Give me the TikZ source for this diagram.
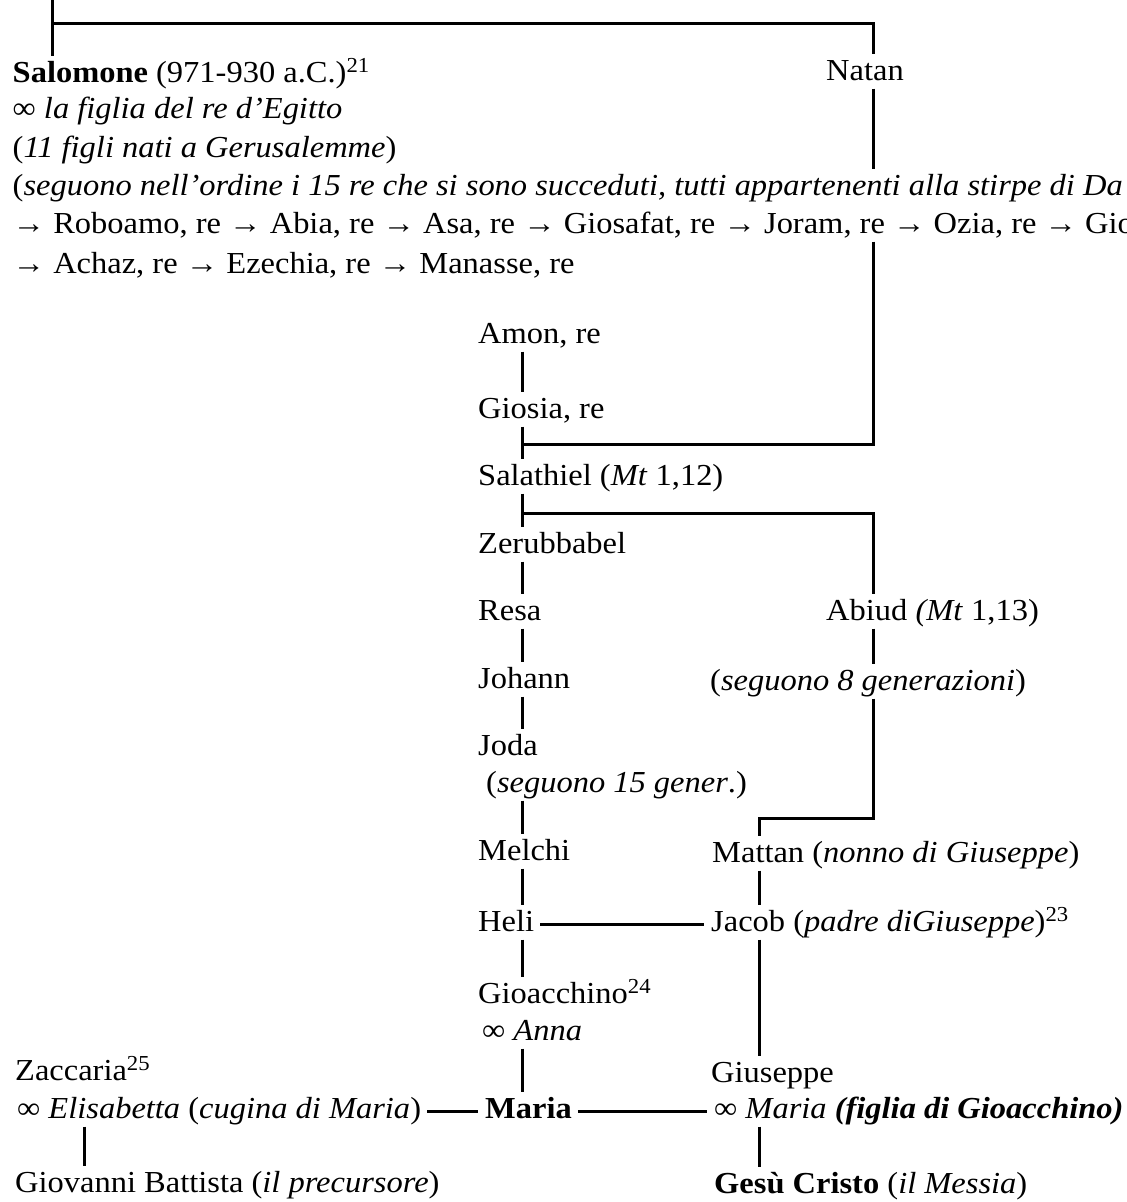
\documentclass[tikz,border=0pt]{standalone}
\usepackage{fontspec}
\setmainfont{Liberation Serif}[FakeStretch=1.065]
\begin{document}
\begin{tikzpicture}[x=1pt,y=-1pt,
    pers/.style={anchor=base west,inner xsep=0pt,inner ysep=3.5pt,
      text height=22pt,text depth=5pt,font=\fontsize{30.5}{36}\selectfont},
    link/.style={line width=3pt},
    tie/.style={link,shorten <=6pt,shorten >=7pt}]
  \useasboundingbox (0,0) rectangle (1127,1202);
  \clip (0,0) rectangle (1127,1202);
  \coordinate (spine) at (522,0);
  \coordinate (natx) at (873,0);
  \coordinate (jx) at (759,0);
  \coordinate (zx) at (84,0);
  \coordinate (davide) at (52,0);
  \coordinate (fork) at (52,23);
  \coordinate (j1) at (522,444);
  \coordinate (j2) at (522,513);
  \coordinate (bend) at (759,818);

  \node[pers] (salomone) at (12.5,82) {\textbf{Salomone} (971-930 a.C.)\textsuperscript{21}};
  \node[pers] (natan) at (826,80) {Natan};
  \node[pers] (egitto) at (12.5,118) {∞ \textit{la figlia del re d’Egitto}};
  \node[pers] (figli) at (12.5,157) {(\textit{11 figli nati a Gerusalemme})};
  \node[pers] (stirpe) at (12.5,195) {(\textit{seguono nell’ordine i 15 re che si sono succeduti, tutti appartenenti alla stirpe di Da}};
  \node[pers] (regni) at (12.5,233) {→ Roboamo, re → Abia, re → Asa, re → Giosafat, re → Joram, re → Ozia, re → Gio};
  \node[pers] (regni2) at (12.5,273) {→ Achaz, re → Ezechia, re → Manasse, re};

  \node[pers] (amon) at (478,343) {Amon, re};
  \node[pers] (giosia) at (478,418) {Giosia, re};
  \node[pers] (salathiel) at (478,485) {Salathiel (\textit{Mt} 1,12)};
  \node[pers] (zerubbabel) at (478,553) {Zerubbabel};
  \node[pers] (resa) at (478,620) {Resa};
  \node[pers] (johann) at (478,688) {Johann};
  \node[pers] (joda) at (478,755) {Joda};
  \node[pers] (gener15) at (486,792) {(\textit{seguono 15 gener}.)};
  \node[pers] (melchi) at (478,860) {Melchi};
  \node[pers] (heli) at (478,931) {Heli};
  \node[pers] (gioacchino) at (478,1003) {Gioacchino\textsuperscript{24}};
  \node[pers] (anna) at (482,1040) {∞ \textit{Anna}};
  \node[pers] (maria) at (485,1118) {\textbf{Maria}};

  \node[pers] (abiud) at (826,620) {Abiud \textit{(Mt} 1,13)};
  \node[pers] (gener8) at (710,690) {(\textit{seguono 8 generazioni})};
  \node[pers] (mattan) at (712,862) {Mattan (\textit{nonno di Giuseppe})};
  \node[pers] (jacob) at (711,931) {Jacob (\textit{padre diGiuseppe})\textsuperscript{23}};
  \node[pers] (giuseppe) at (711,1082) {Giuseppe};
  \node[pers] (sposa) at (714,1118) {∞ \textit{Maria} \textbf{\textit{(figlia di Gioacchino)}}};
  \node[pers] (gesu) at (714,1193) {\textbf{Gesù Cristo} (\textit{il Messia})};

  \node[pers] (zaccaria) at (15,1080) {Zaccaria\textsuperscript{25}};
  \node[pers] (elisabetta) at (17,1118) {∞ \textit{Elisabetta} (\textit{cugina di Maria})};
  \node[pers] (giovanni) at (15,1192) {Giovanni Battista (\textit{il precursore})};

  \draw[link] (davide) -- (salomone.north -| davide);
  \draw[link] (fork) -| (natan.north -| natx);
  \draw[link] (natan.south -| natx) -- (stirpe.north -| natx);
  \draw[link] (regni.south -| natx) |- (j1);
  \draw[link] (j2) -| (abiud.north -| natx);
  \foreach \a/\b in {amon/giosia,giosia/salathiel,salathiel/zerubbabel,zerubbabel/resa,resa/johann,johann/joda,gener15/melchi,melchi/heli,heli/gioacchino,anna/maria}
    \draw[link] (\a.south -| spine) -- (\b.north -| spine);
  \draw[link] (abiud.south -| natx) -- (gener8.north -| natx);
  \draw[link] (gener8.south -| natx) |- (bend) -- (mattan.north -| jx);
  \foreach \a/\b in {mattan/jacob,jacob/giuseppe,sposa/gesu}
    \draw[link] (\a.south -| jx) -- (\b.north -| jx);
  \draw[link] (elisabetta.south -| zx) -- (giovanni.north -| zx);
  \draw[tie] ([yshift=7pt]heli.base east) -- ([yshift=7pt]jacob.base west);
  \draw[tie] ([yshift=7pt]elisabetta.base east) -- ([yshift=7pt]maria.base west);
  \draw[tie] ([yshift=7pt]maria.base east) -- ([yshift=7pt]sposa.base west);
\end{tikzpicture}
\end{document}
